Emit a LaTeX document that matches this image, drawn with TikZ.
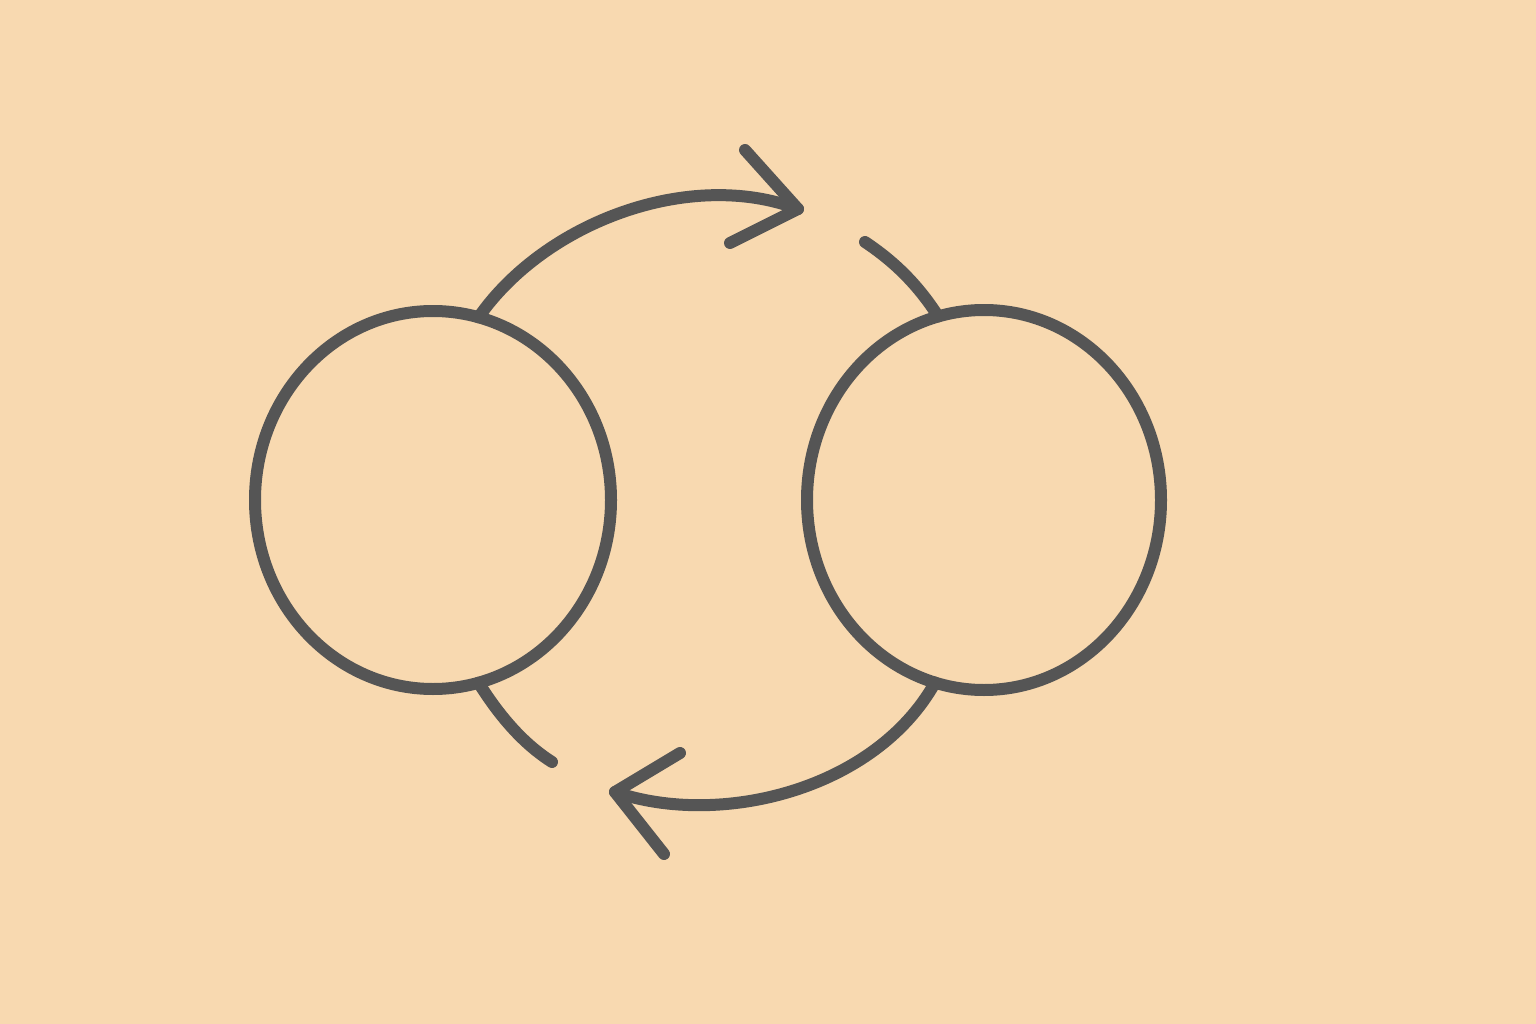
\documentclass[tikz,border=0pt]{standalone}
\usetikzlibrary{shapes.geometric}
\definecolor{bg}{HTML}{F8D9B0}
\definecolor{ink}{HTML}{555555}
\begin{document}
\begin{tikzpicture}[x=1pt,y=-1pt,
  stroke/.style={draw=ink,line width=12pt,line cap=round,line join=round},
  ring/.style={ellipse,stroke,inner sep=0pt,outer sep=0pt}]
\fill[bg] (0,0) rectangle (1536,1024);
\useasboundingbox (0,0) rectangle (1536,1024);
\node[ring,minimum width=356pt,minimum height=378pt] (L) at (433,500) {};
\node[ring,minimum width=354pt,minimum height=380pt] (R) at (984,500) {};
% top arrow
\coordinate (t1) at (798,209);
\coordinate (t1a) at (745,150);
\coordinate (t1b) at (730,243);
\draw[stroke] (L.76) .. controls (545,222) and (690,168) .. (t1);
\draw[stroke] (t1a) -- (t1) -- (t1b);
% right short segment
\coordinate (s1) at (865,242);
\draw[stroke] (s1) .. controls (895,262) and (918,285) .. (R.104);
% bottom arrow
\coordinate (t2) at (615,792);
\coordinate (t2a) at (680,753);
\coordinate (t2b) at (664,854);
\draw[stroke] (R.255) .. controls (875,790) and (720,828) .. (t2);
\draw[stroke] (t2a) -- (t2) -- (t2b);
% left short segment
\coordinate (s2) at (552,762);
\draw[stroke] (L.284) .. controls (505,725) and (530,748) .. (s2);
\end{tikzpicture}
\end{document}
